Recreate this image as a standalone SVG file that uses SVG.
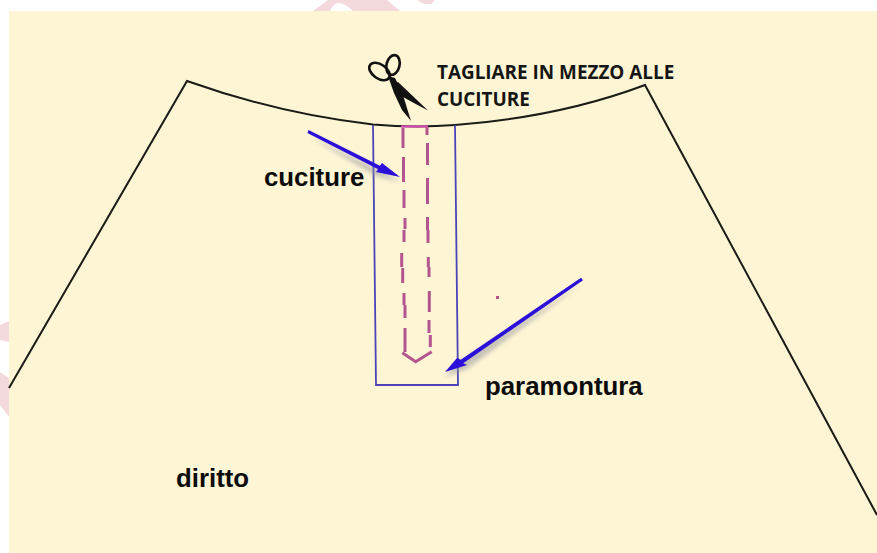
<svg xmlns="http://www.w3.org/2000/svg" width="877" height="553" viewBox="0 0 877 553">
<defs>
<filter id="soft" x="-5%" y="-5%" width="110%" height="110%"><feGaussianBlur stdDeviation="0.4"/></filter>
<filter id="shadow" x="-20%" y="-20%" width="140%" height="140%"><feGaussianBlur stdDeviation="2.2"/></filter>
</defs>
<style>
.lbl{font-family:"Liberation Sans",Arial,sans-serif;font-weight:700;fill:#0c0c0c;font-size:25.800px}
.cal{font-family:"Open Sans","Liberation Sans",sans-serif;font-weight:700;fill:#161616;font-size:18.900px}
.blk{fill:none;stroke:#1a1a16;stroke-width:2;stroke-linejoin:miter}
.blu{fill:none;stroke:#4a45b8;stroke-width:1.800}
.dash{fill:none;stroke:#b3548f;stroke-width:3}
.head{fill:#2a10d8}
.shd{fill:#8f8f9a;opacity:.5}
.wm{fill:#f4d9dc}
</style>
<rect width="877" height="553" fill="#fff"/>
<g id="watermark">
<path class="wm" d="M0 325L9 321V342L0 340Z"/>
<path class="wm" d="M0 372L9 378V417L0 405Z"/>
<path class="wm" d="M313 11L328 0H387L400 11H353C348 6 343 3 338 3C335 3 332 7 330 11Z"/>
<path class="wm" d="M417 0H435L431 4L424 4Z"/>
</g>
<rect id="sheet" x="9" y="11" width="868" height="542" fill="#fef5d5"/>
<g id="garment" filter="url(#soft)">
<path class="blk" d="M9 388L187 81Q280 114 373 124.500Q415 128 455 125Q560 117 645 85L877 515"/>
</g>
<g id="paramontura" filter="url(#soft)">
<path class="blu" d="M373 125L376 385H458L455 125"/>
</g>
<g id="cuciture" filter="url(#soft)">
<path d="M401 126.500H428" fill="none" stroke="#d64fb4" stroke-width="2.200"/>
<path class="dash" d="M403 128V148M403.500 157V182M404 190V208M405 218V229M404 230V242M401.700 253V267M402.700 268V283M404 293V305M405 305V318M405 328V352M402.300 352.700L415.700 361.700L431.700 351.700M427 127V135M427.500 143V165M427.500 178V204M427.500 217V230M428 230V243M428.300 257V267M429 267V277M429.300 291V312M429 320V333M430.300 335V347"/>
</g>
<g id="forbici">
<ellipse cx="379.500" cy="71.500" rx="11.500" ry="7" transform="rotate(35 379.500 71.500)" fill="none" stroke="#111" stroke-width="2.600"/>
<ellipse cx="393" cy="65" rx="6.500" ry="10" transform="rotate(14 393 65)" fill="none" stroke="#111" stroke-width="2.600"/>
<path d="M388 76L395 78L402 92L411 121L402 110L394 93Z" fill="#111"/>
<path d="M393 84L398 82L428 110.500L412 102L396 93Z" fill="#111"/>
</g>
<g id="connectors">
<path class="shd" filter="url(#shadow)" d="M308 136L384 172L400 182L376 176Z"/>
<path class="shd" filter="url(#shadow)" d="M582 284L467 369L445 377L457 363Z"/>
<path class="head" d="M308.600 130.100L379.900 165.700L382 163L400 177L376 172L378.100 169.300L307.400 132.900Z"/>
<path class="head" d="M581 277.800L460.800 359.700L457 358L445 372L467 365L463.200 363.300L583 280.200Z"/>
</g>
<g id="labels">
<text class="cal" x="437" y="79">TAGLIARE IN MEZZO ALLE</text>
<text class="cal" x="437" y="106">CUCITURE</text>
<text class="lbl" x="264" y="186">cuciture</text>
<text class="lbl" x="485" y="395">paramontura</text>
<text class="lbl" x="176" y="487">diritto</text>
</g>
<rect x="496" y="296" width="3" height="3" fill="#b3548f"/>
</svg>
